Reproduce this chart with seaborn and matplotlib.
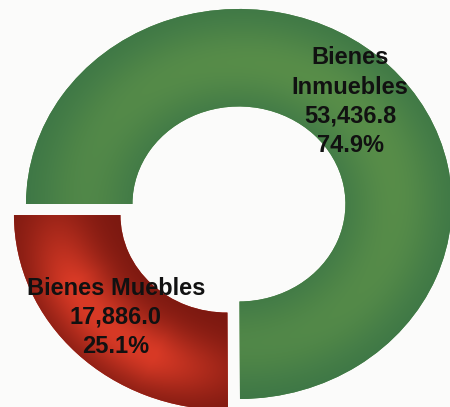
import numpy as np
import matplotlib
matplotlib.use("Agg")
import matplotlib.pyplot as plt
import seaborn as sns

# datos del grafico
categorias = ["Bienes Muebles", "Bienes Inmuebles"]
etiquetas = ["Bienes Muebles", "Bienes\nInmuebles"]
valores = [17886.0, 53436.8]
colores = ["#b52a1c", "#4c8746"]

sns.set_theme(style="white")
plt.rcParams['font.family'] = ['Liberation Sans', 'DejaVu Sans']

fig = plt.figure(figsize=(4.5, 4.07), dpi=100)
fig.patch.set_facecolor("#fbfbfa")
ax = fig.add_axes([0, 0, 1, 1])
ax.set_facecolor("#fbfbfa")

wedges, _ = ax.pie(valores, explode=[0.08, 0], startangle=180, counterclock=True,
                   colors=colores, wedgeprops=dict(width=0.5, edgecolor='none'))
ax.set_aspect('auto')
ax.set_xlim(-1.122, 0.991)
ax.set_ylim(-1.041, 1.046)

# degradados dentro de cada porcion
x0, x1 = ax.get_xlim()
y0, y1 = ax.get_ylim()
X, Y = np.meshgrid(np.linspace(x0, x1, 450), np.linspace(y0, y1, 407))

def hexrgb(h):
    return np.array([int(h[i:i + 2], 16) / 255 for i in (1, 3, 5)])

for i, w in enumerate(wedges):
    cx, cy = w.center
    R = np.hypot(X - cx, Y - cy)
    t = np.clip((R - 0.5) / 0.5, 0, 1)
    if i == 1:
        b = np.exp(-((t - 0.45) / 0.45) ** 2)
        s = np.clip((Y + X + 1.5) / 3, 0, 1)
        b = (b * (0.6 + 0.4 * s))[..., None]
        img = hexrgb("#3a7446") * (1 - b) + hexrgb("#5a8f49") * b
    else:
        th = np.degrees(np.arctan2(Y - cy, X - cx)) % 360
        a = np.clip(np.minimum(th - 180, 270 - th) / 25, 0, 1)
        b = np.exp(-((t - 0.6) / 0.35) ** 2) * (0.35 + 0.65 * a)
        b = b[..., None]
        img = hexrgb("#7a1810") * (1 - b) + hexrgb("#d83a26") * b
    im = ax.imshow(np.clip(img, 0, 1), extent=(x0, x1, y0, y1), origin='lower',
                   aspect='auto', interpolation='bilinear', zorder=2)
    im.set_clip_path(w)

# etiquetas con valor y porcentaje
total = sum(valores)
for w, et, v in zip(wedges, etiquetas, valores):
    mid = np.radians((w.theta1 + w.theta2) / 2)
    cx, cy = w.center
    r = 0.74
    ax.text(cx + r * np.cos(mid), cy + r * np.sin(mid),
            f"{et}\n{v:,.1f}\n{v / total * 100:.1f}%",
            ha='center', va='center', fontsize=17, fontweight='bold',
            color='#111111', linespacing=1.35, zorder=5)

ax.set_xlim(x0, x1)
ax.set_ylim(y0, y1)
ax.axis('off')
fig.savefig("out.png", dpi=100, facecolor=fig.get_facecolor())
